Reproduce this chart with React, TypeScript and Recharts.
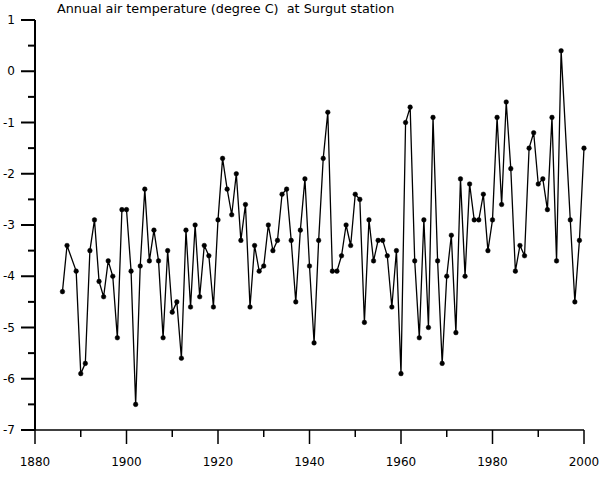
import { LineChart, Line, XAxis, YAxis } from 'recharts';

const years = [
  1886, 1887, 1889, 1890, 1891, 1892, 1893, 1894, 1895, 1896, 1897, 1898, 1899,
  1900, 1901, 1902, 1903, 1904, 1905, 1906, 1907, 1908, 1909, 1910, 1911, 1912,
  1913, 1914, 1915, 1916, 1917, 1918, 1919, 1920, 1921, 1922, 1923, 1924, 1925,
  1926, 1927, 1928, 1929, 1930, 1931, 1932, 1933, 1934, 1935, 1936, 1937, 1938,
  1939, 1940, 1941, 1942, 1943, 1944, 1945, 1946, 1947, 1948, 1949, 1950, 1951,
  1952, 1953, 1954, 1955, 1956, 1957, 1958, 1959, 1960, 1961, 1962, 1963, 1964,
  1965, 1966, 1967, 1968, 1969, 1970, 1971, 1972, 1973, 1974, 1975, 1976, 1977,
  1978, 1979, 1980, 1981, 1982, 1983, 1984, 1985, 1986, 1987, 1988, 1989, 1990,
  1991, 1992, 1993, 1994, 1995, 1997, 1998, 1999, 2000,
];

const temps = [
  -4.3, -3.4, -3.9, -5.9, -5.7, -3.5, -2.9, -4.1, -4.4, -3.7, -4.0, -5.2, -2.7,
  -2.7, -3.9, -6.5, -3.8, -2.3, -3.7, -3.1, -3.7, -5.2, -3.5, -4.7, -4.5, -5.6,
  -3.1, -4.6, -3.0, -4.4, -3.4, -3.6, -4.6, -2.9, -1.7, -2.3, -2.8, -2.0, -3.3,
  -2.6, -4.6, -3.4, -3.9, -3.8, -3.0, -3.5, -3.3, -2.4, -2.3, -3.3, -4.5, -3.1,
  -2.1, -3.8, -5.3, -3.3, -1.7, -0.8, -3.9, -3.9, -3.6, -3.0, -3.4, -2.4, -2.5,
  -4.9, -2.9, -3.7, -3.3, -3.3, -3.6, -4.6, -3.5, -5.9, -1.0, -0.7, -3.7, -5.2,
  -2.9, -5.0, -0.9, -3.7, -5.7, -4.0, -3.2, -5.1, -2.1, -4.0, -2.2, -2.9, -2.9,
  -2.4, -3.5, -2.9, -0.9, -2.6, -0.6, -1.9, -3.9, -3.4, -3.6, -1.5, -1.2, -2.2,
  -2.1, -2.7, -0.9, -3.7, 0.4, -2.9, -4.5, -3.3, -1.5,
];

const xTicks = [1880, 1890, 1900, 1910, 1920, 1930, 1940, 1950, 1960, 1970, 1980, 1990, 2000];
const xLabels = [1880, 1900, 1920, 1940, 1960, 1980, 2000];
const yTicks = [-7, -6.5, -6, -5.5, -5, -4.5, -4, -3.5, -3, -2.5, -2, -1.5, -1, -0.5, 0, 0.5, 1];
const yLabels = [-7, -6, -5, -4, -3, -2, -1, 0, 1];

const data = years.map((year, i) => ({ year, temp: temps[i] }));

const font = '"DejaVu Sans", Verdana, sans-serif';

const XTick = (props: any) => {
  const { x, y, payload } = props;
  const major = xLabels.includes(payload.value);
  return (
    <g>
      <line x1={x} y1={y} x2={x} y2={y + (major ? 14 : 7)} stroke="#000" strokeWidth={1.5} />
      {major && (
        <text x={x} y={y + 36} textAnchor="middle" fontSize={12} fontFamily={font} fill="#000">
          {payload.value}
        </text>
      )}
    </g>
  );
};

const YTick = (props: any) => {
  const { x, y, payload } = props;
  const major = yLabels.includes(payload.value);
  return (
    <g>
      <line x1={x} y1={y} x2={x - (major ? 14 : 7)} y2={y} stroke="#000" strokeWidth={2} />
      {major && (
        <text x={x - 20} y={y + 4} textAnchor="end" fontSize={12} fontFamily={font} fill="#000">
          {payload.value}
        </text>
      )}
    </g>
  );
};

export default function App() {
  return (
    <div style={{ position: 'absolute', left: 0, top: 0, width: 600, height: 493, background: '#fff' }}>
      <div
        style={{
          position: 'absolute',
          left: 57,
          top: 1,
          fontFamily: font,
          fontSize: 12.8,
          lineHeight: '16px',
          whiteSpace: 'pre',
          color: '#000',
        }}
      >
        {'Annual air temperature (degree C)  at Surgut station'}
      </div>
      <LineChart width={600} height={493} data={data} margin={{ top: 20, right: 16, bottom: 23, left: 0 }}>
        <XAxis
          dataKey="year"
          type="number"
          domain={[1880, 2000]}
          ticks={xTicks}
          interval={0}
          height={40}
          tickSize={0}
          tickMargin={0}
          tickLine={false}
          tick={<XTick />}
          axisLine={{ stroke: '#000', strokeWidth: 1.5 }}
        />
        <YAxis
          type="number"
          domain={[-7, 1]}
          ticks={yTicks}
          interval={0}
          width={35}
          tickSize={0}
          tickMargin={0}
          tickLine={false}
          tick={<YTick />}
          axisLine={{ stroke: '#000', strokeWidth: 2 }}
        />
        <Line
          dataKey="temp"
          type="linear"
          stroke="#000"
          strokeWidth={1.3}
          dot={{ r: 2.3, fill: '#000', stroke: '#000', strokeWidth: 0.5 }}
          activeDot={false}
          isAnimationActive={false}
        />
      </LineChart>
    </div>
  );
}
